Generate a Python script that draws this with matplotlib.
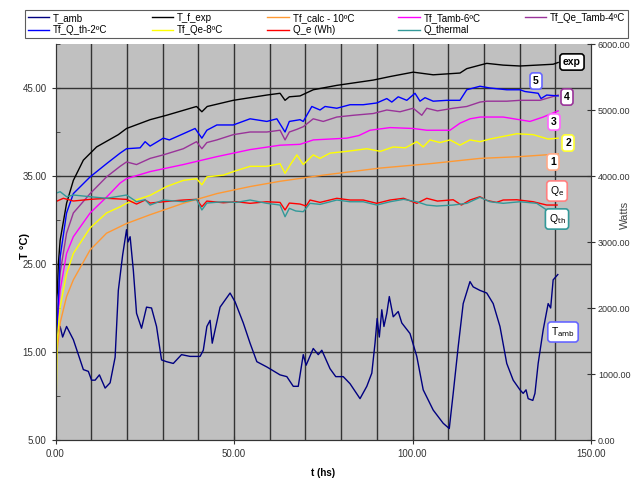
import matplotlib.pyplot as plt
import numpy as np

plt.rcParams['font.family'] = ['Liberation Sans', 'DejaVu Sans']

# ambient temperature (degC)
t_amb = [0.3, 1.3, 2, 3.1, 5, 6.9, 7.8, 9.2, 10.1, 11.1,
         12.3, 13.9, 15.3, 16.7, 17.6, 18.8, 19.9, 20.3, 20.9, 21.8,
         22.7, 24.1, 25.5, 26.9, 28.3, 29.7, 31.1, 33, 35.3, 37.7,
         40.5, 41.4, 42.4, 43.3, 43.9, 44.7, 46.1, 48.9, 50.3, 52.6,
         54.5, 56.4, 59.2, 62.9, 64.8, 66.6, 68, 69.4, 70.2, 72.2,
         73.6, 74.6, 76.9, 78.5, 80.6, 82.5, 85.3, 87.2, 88.6, 89.5,
         90.1, 90.7, 91.4, 92, 92.8, 93.5, 94.6, 96, 97, 99.3,
         101.2, 103, 105.8, 108.6, 110.3, 111.4, 112.8, 114.2, 116.1, 117,
         118.9, 120.8, 122.6, 124.5, 126.4, 128.2, 130.1, 131, 131.8, 132.4,
         133.7, 134.3, 135.2, 136.6, 138, 138.7, 139.4, 140.7]
T_amb = [17, 17.9, 16.7, 17.9, 16.4, 14.1, 13, 12.8, 11.8, 11.8,
         12.4, 10.9, 11.5, 14.4, 22, 26, 28.9, 27.5, 28.1, 24.3,
         19.4, 17.7, 20.1, 20, 17.9, 14.1, 13.9, 13.7, 14.7, 14.5,
         14.5, 15.2, 17.9, 18.6, 16, 17.5, 20.1, 21.7, 20.7, 18.3,
         16, 13.9, 13.3, 12.4, 12.2, 11.1, 11.1, 14.7, 13.5, 15.4,
         14.7, 15.2, 13.1, 12.2, 12.2, 11.4, 9.7, 11.1, 12.6, 16,
         18.8, 16.7, 19.8, 17.9, 19.4, 21.3, 19, 19.6, 18.3, 17.1,
         14.5, 10.7, 8.4, 6.9, 6.3, 10.3, 15.6, 20.5, 23, 22.4,
         22, 21.7, 20.5, 17.9, 13.7, 11.8, 10.7, 10.3, 10.7, 9.7,
         9.5, 10.3, 13.7, 17.5, 20.5, 20, 23.2, 23.8]

# measured fluid temperature
t_exp = [0, 0.5, 0.8, 1.3, 3.1, 5, 7.8, 11.5, 17.6, 19.9,
         26.5, 31.1, 39.5, 41, 42.5, 49.8, 59.2, 62.9, 64.3, 65.5,
         68.5, 72.2, 78.8, 89, 93.7, 100.2, 105.8, 113.3, 115.2, 118.9,
         120.8, 125.4, 130.1, 134.8, 139.4, 140.8]
T_exp = [20, 21.7, 25, 27.7, 31.9, 34.5, 36.8, 38.3, 39.7, 40.4,
         41.4, 41.9, 42.9, 42.3, 42.9, 43.6, 44.2, 44.4, 43.6, 44.0,
         44.1, 44.8, 45.3, 45.9, 46.3, 46.8, 46.5, 46.7, 47.2, 47.6,
         47.8, 47.6, 47.5, 47.6, 47.7, 47.9]

# model 1: Tf_calc - 10
t_calc = [0, 0.3, 1.3, 3.1, 5, 9.7, 14.3, 19.9, 26.5, 35.8,
          45.2, 54.5, 62.9, 75, 90.9, 104.9, 118.9, 130, 140.8]
T_calc = [8, 14.5, 18.3, 21.3, 23.2, 26.6, 28.5, 29.6, 30.6, 31.9,
          33, 33.8, 34.4, 35.1, 35.9, 36.4, 37, 37.2, 37.5]

# model 3: Tf_Tamb - 6
t_tamb6 = [0, 0.5, 1.3, 3.1, 5, 9.7, 14.3, 18.1, 19.9, 26.5,
           35.8, 45.2, 54.5, 62.9, 68.5, 72.2, 81.6, 85, 88.1, 93.7,
           100.2, 104, 110.5, 113.3, 116.1, 119, 125.4, 132.9, 136.6, 140.8]
T_tamb6 = [16, 18, 22, 26.2, 28.1, 30.8, 32.6, 34.2, 34.7, 35.5,
           36.3, 37.2, 38, 38.5, 38.6, 39.1, 39.3, 39.6, 40.2, 40.5,
           40.4, 40.2, 40.2, 41, 41.5, 41.7, 41.7, 41.2, 41.7, 42.4]

# model 4: Tf_Qe_Tamb - 4
t_qetamb4 = [0, 0.5, 1.3, 3.1, 5, 9.7, 14.3, 18.1, 19.9, 22.7,
             26.5, 30.2, 35.8, 39.5, 41, 42.4, 45.2, 49.8, 54.5, 59.2,
             62.9, 64.3, 65.5, 67.6, 69.4, 72.2, 75, 78.8, 83.4, 89,
             92.8, 96.5, 100.2, 102.6, 104, 107, 111.4, 115.2, 118.9, 120.8,
             126.4, 130.1, 135.7, 140.8]
T_qetamb4 = [15, 19, 24, 28.5, 30.8, 33, 34.9, 36.1, 36.6, 36.3,
             37, 37.4, 38.1, 38.9, 38.1, 38.8, 39.1, 39.7, 40, 40,
             40.2, 39.1, 40.0, 40.3, 40.6, 41.5, 41.2, 41.7, 41.9, 42.1,
             42.5, 42.3, 42.7, 41.9, 42.7, 42.4, 42.7, 42.9, 43.4, 43.5,
             43.5, 43.6, 43.6, 44.2]

# model 5: Tf_Q_th - 2
t_qth2 = [0, 0.5, 1.3, 3.1, 5, 9.7, 14.3, 18.1, 19.9, 23.7,
          25.1, 26.5, 30.2, 31.9, 35.8, 39.1, 41, 42.4, 45.2, 49.8,
          54.5, 59.2, 62, 64.3, 65.5, 68.5, 69.4, 71.8, 74.1, 75.5,
          78.8, 82.5, 86.2, 90, 92.8, 94.2, 96, 98.4, 100.7, 102.1,
          103.5, 105.8, 109.6, 113.3, 115.2, 118.9, 121.7, 126.4, 130.1, 131.5,
          135.2, 136, 137.6, 140.8]
T_qth2 = [10, 18, 25.8, 30.8, 33, 34.9, 36.4, 37.6, 38.1, 38.2,
          38.9, 38.4, 39.3, 39.1, 39.8, 40.4, 39.3, 40.2, 40.8, 40.8,
          41.5, 41.2, 41.5, 40, 41.2, 41.4, 41.2, 42.9, 42.5, 42.9,
          42.7, 43.1, 43.1, 43.3, 43.8, 43.4, 44, 43.6, 44.4, 43.5,
          43.9, 43.5, 43.6, 43.6, 44.8, 45.2, 45.0, 44.8, 44.8, 44.6,
          44.4, 43.8, 44.2, 44.1]

# model 2: Tf_Qe - 8
t_qe8 = [0, 0.3, 0.5, 1.3, 3.1, 5, 9.7, 14.3, 18.1, 19.9,
         23.5, 26.5, 31.1, 35.8, 39.5, 41, 42.4, 47, 49.8, 54.5,
         59.2, 62.9, 64.3, 65.8, 67.6, 69.4, 72.2, 74.1, 76.9, 81.6,
         87.2, 91, 94.6, 98, 101.2, 103, 104.9, 107.7, 110.5, 113.3,
         116.1, 118.9, 121.7, 125.4, 129.2, 133.8, 138, 140.8]
T_qe8 = [5, 12, 16.4, 20.1, 23.9, 26.2, 29.1, 30.8, 31.5, 31.9,
         32.4, 32.8, 33.8, 34.5, 34.7, 34.0, 34.9, 35.1, 35.5, 36.1,
         36.1, 36.4, 35.3, 36.3, 37.4, 36.3, 37.4, 37.0, 37.6, 37.8,
         38.1, 37.8, 38.3, 38.2, 38.9, 38.3, 39.1, 38.8, 39.1, 38.5,
         39.1, 38.9, 39.2, 39.5, 39.8, 39.7, 39.2, 39.3]

# electrical power (W)
t_qe = [0, 2.2, 5, 9.7, 14.3, 19.9, 22.7, 25.1, 26.5, 30.2,
        35.8, 39.5, 41, 42.4, 47, 50.7, 54.5, 59.2, 62.9, 64.3,
        65.5, 68.5, 70.2, 71.3, 74.1, 78.8, 82.5, 86.2, 90, 93.7,
        97.5, 101.2, 104, 107, 111.4, 113.7, 116.1, 118.9, 120.8, 123.5,
        125.4, 129.2, 133.8, 137.6, 140.5]
Q_e = [3610, 3662, 3621, 3646, 3662, 3646, 3575, 3636, 3590, 3610,
       3636, 3646, 3535, 3620, 3595, 3610, 3586, 3610, 3600, 3485,
       3590, 3575, 3545, 3636, 3600, 3662, 3636, 3636, 3586, 3636,
       3662, 3586, 3662, 3620, 3640, 3560, 3636, 3686, 3630, 3600,
       3636, 3640, 3610, 3560, 3560]

# thermal power (W)
t_qth = [0, 1.3, 3.1, 5, 9.7, 14.3, 19.9, 22.7, 25.1, 26.5,
         30.2, 35.8, 39.5, 41, 42.4, 47, 50.7, 54.5, 59.2, 62.9,
         64.3, 65.5, 67.3, 69.4, 71.3, 74.1, 78.8, 82.5, 86.2, 90,
         93.7, 97.5, 101.2, 104, 106.8, 111.4, 115.2, 118.9, 121.7, 125.4,
         130.1, 134.8, 137.6, 140.5]
Q_th = [3737, 3762, 3686, 3712, 3686, 3662, 3712, 3610, 3640, 3560,
        3636, 3610, 3646, 3485, 3590, 3610, 3600, 3636, 3586, 3560,
        3383, 3510, 3470, 3459, 3586, 3570, 3636, 3610, 3610, 3560,
        3610, 3646, 3610, 3560, 3545, 3560, 3586, 3677, 3610, 3586,
        3610, 3586, 3485, 3485]

W, H = 631, 479
fig = plt.figure(figsize=(W / 100, H / 100), dpi=100)
ax = fig.add_axes([55.5 / W, 1 - 440 / H, (591 - 55.5) / W, (440 - 44) / H])
ax.set_facecolor('#C0C0C0')
ax2 = ax.twinx()

lw = 1.0
h_amb, = ax.plot(t_amb, T_amb, color='#000080', lw=lw, label='T_amb')
h_exp, = ax.plot(t_exp, T_exp, color='#000000', lw=lw, label='T_f_exp')
h_calc, = ax.plot(t_calc, T_calc, color='#FF9933', lw=lw, label='Tf_calc - 10ºC')
h_t6, = ax.plot(t_tamb6, T_tamb6, color='#FF00FF', lw=lw, label='Tf_Tamb-6ºC')
h_q4, = ax.plot(t_qetamb4, T_qetamb4, color='#993399', lw=lw, label='Tf_Qe_Tamb-4ºC')
h_q2, = ax.plot(t_qth2, T_qth2, color='#0000FF', lw=lw, label='Tf_Q_th-2ºC')
h_q8, = ax.plot(t_qe8, T_qe8, color='#FFFF00', lw=lw, label='Tf_Qe-8ºC')
h_qe, = ax2.plot(t_qe, Q_e, color='#FF0000', lw=lw, label='Q_e (Wh)')
h_qth, = ax2.plot(t_qth, Q_th, color='#339999', lw=lw, label='Q_thermal')

ax.set_xlim(0, 150)
ax.set_ylim(5, 50)
ax2.set_ylim(0, 6000)

ax.set_xticks([0, 50, 100, 150])
ax.set_xticks(np.arange(0, 151, 10), minor=True)
ax.set_yticks([5, 15, 25, 35, 45])
ax.set_yticks([10, 20, 30, 40, 50], minor=True)
ax2.set_yticks(np.arange(0, 6001, 1000))
ax.xaxis.set_major_formatter(plt.FormatStrFormatter('%.2f'))
ax.yaxis.set_major_formatter(plt.FormatStrFormatter('%.2f'))
ax2.yaxis.set_major_formatter(plt.FormatStrFormatter('%.2f'))

for x in np.arange(10, 150, 10):
    ax.axvline(x, color='#333333', lw=1.0, zorder=0.5)
for y in [15, 25, 35, 45]:
    ax.axhline(y, color='#333333', lw=1.0, zorder=0.5)

ax.tick_params(which='major', direction='inout', length=6, labelsize=7,
               labelcolor='#333333', color='#333333')
ax.tick_params(axis='x', which='minor', length=0)
ax.tick_params(axis='y', which='minor', direction='in', length=3, color='#333333')
ax2.tick_params(direction='inout', length=6, labelsize=6.5, pad=2,
                labelcolor='#333333', color='#333333')
for a in (ax, ax2):
    a.spines['top'].set_visible(False)
    for s in ('left', 'bottom', 'right'):
        a.spines[s].set_color('#333333')

ax.set_xlabel('t (hs)', fontsize=7, fontweight='bold')
ax.xaxis.set_label_coords(0.5, -0.071)
ax.set_ylabel('T °C)', fontsize=8, fontweight='bold')
ax.yaxis.set_label_coords(-0.048, 0.49)
ax2.set_ylabel('Watts', fontsize=8, color='#444444')
ax2.yaxis.set_label_coords(1.054, 0.568)

handles = [h_amb, h_q2, h_exp, h_q8, h_calc, h_qe, h_t6, h_qth, h_q4]
leg = fig.legend(handles=handles, loc='lower left', ncol=5, mode='expand',
                 bbox_to_anchor=(25 / W, 1 - 38 / H, 603 / W, 31 / H),
                 fontsize=7, frameon=True, fancybox=False, handlelength=2.2,
                 handletextpad=0.4, borderaxespad=0, labelspacing=0.25,
                 borderpad=0.3)
leg.get_frame().set_edgecolor('#333333')
leg.get_frame().set_linewidth(0.8)

tags = [('exp', 572, 62, '#000000', True),
        ('5', 536, 81, '#6666FF', True),
        ('4', 567, 97, '#993399', True),
        ('3', 554, 122, '#FF66FF', True),
        ('2', 568, 143, '#FFFF33', True),
        ('1', 553, 162, '#FFAA88', True),
        ('Q$_{\\mathrm{e}}$', 557, 191, '#FF8080', False),
        ('Q$_{\\mathrm{th}}$', 557, 219, '#339999', False),
        ('T$_{\\mathrm{amb}}$', 563, 332, '#6666FF', False)]
for txt, px, py, ec, bold in tags:
    fig.text(px / W, 1 - py / H, txt, ha='center', va='center', fontsize=7.5,
             fontweight='bold' if bold else 'normal', color='#000000',
             bbox=dict(boxstyle='round,pad=0.3', fc='white', ec=ec, lw=1.2))

fig.savefig('out.png', dpi=100)
